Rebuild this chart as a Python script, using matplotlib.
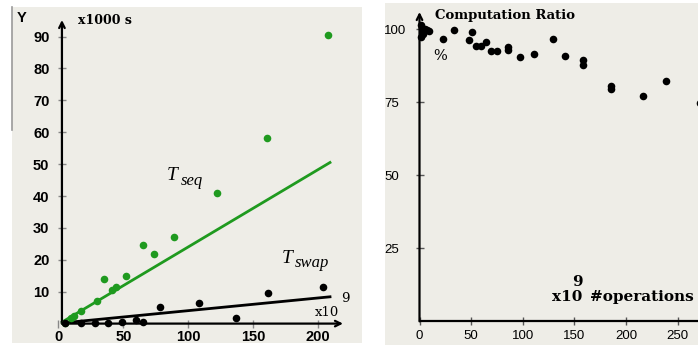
import matplotlib
matplotlib.use("Agg")
import matplotlib.pyplot as plt
from matplotlib.patches import Rectangle
from matplotlib.lines import Line2D

# ---------------- data ----------------
seq_x = [5, 10, 12, 17.4, 29.5, 35, 41.5, 44.4, 51.8, 64.9, 73.8, 89.2, 121.8, 160.3, 207.7]
seq_y = [0.3, 1.9, 2.4, 3.8, 7.2, 13.9, 10.6, 11.6, 14.9, 24.6, 21.8, 27.2, 40.8, 58.1, 90.5]
swap_x = [5, 17.4, 28.2, 38, 48.7, 59.7, 64.9, 78.2, 108.5, 136.7, 161, 203.8]
swap_y = [0.3, 0.3, 0.3, 0.3, 0.5, 1.2, 0.5, 5.1, 6.6, 1.7, 9.7, 11.6]
seq_fit_x = [3, 209]
seq_fit_y = [0.5, 50.5]
swap_fit_x = [3, 209]
swap_fit_y = [0.2, 8.4]
left_xticks = [0, 50, 100, 150, 200]
left_yticks = [10, 20, 30, 40, 50, 60, 70, 80, 90]

ratio_x = [1, 2, 3, 5, 7, 9, 1.5, 3, 22.9, 33.5, 47.7, 50.9, 54.4, 59.3, 64.1, 68.9, 75,
           85.7, 85.7, 97.3, 110.5, 128.9, 140.5, 158.2, 158.2, 185.2, 185.2, 216.2, 238.7, 271.6]
ratio_y = [101.5, 100.5, 99.5, 100, 99.6, 99.3, 97.5, 98.5, 96.6, 99.8, 96.3, 99.1, 94.4, 94.4,
           95.5, 92.4, 92.4, 93.8, 92.9, 90.6, 91.6, 96.6, 91.0, 89.5, 87.7, 80.6, 79.5, 77.3, 82.3, 74.7]
right_xticks = [0, 50, 100, 150, 200, 250]
right_yticks = [25, 50, 75, 100]

# ---------------- figure ----------------
W, H = 698, 345
fig = plt.figure(figsize=(W / 100, H / 100), dpi=100)
fig.patch.set_facecolor("white")

BG = "#eeede7"
GREEN = "#1f9a1f"

def px_rect(x0, y0, x1, y1):
    return (x0 / W, 1 - y1 / H, (x1 - x0) / W, (y1 - y0) / H)

# panel backgrounds
for (x0, y0, x1, y1) in [(12, 7, 362, 343), (385, 3, 698, 345)]:
    l, b, w, h = px_rect(x0, y0, x1, y1)
    fig.patches.append(Rectangle((l, b), w, h, transform=fig.transFigure,
                                 facecolor=BG, edgecolor="none", zorder=-10))
fig.lines.append(Line2D([12 / W, 12 / W], [1 - 7 / H, 1 - 130 / H],
                        transform=fig.transFigure, color="#9a9a9a", lw=1.2, zorder=-5))

serif = "DejaVu Serif"
times = "Liberation Serif"

def ftext(x, y, s, **kw):
    return fig.text(x / W, 1 - y / H, s, **kw)

# ---------------- left panel ----------------
xl0, yl0, pxu_x, pxu_y = 58.3, 323.6, 1.3, 3.19
xlim_l = (0, (343 - xl0) / pxu_x)
ylim_l = (0, (yl0 - 20) / pxu_y)
axL = fig.add_axes([xl0 / W, 1 - yl0 / H,
                    (xlim_l[1] * pxu_x) / W, (ylim_l[1] * pxu_y) / H])
axL.set_zorder(5)
axL.set_xlim(*xlim_l)
axL.set_ylim(*ylim_l)
axL.patch.set_alpha(0)
for s in axL.spines.values():
    s.set_visible(False)
axL.spines["left"].set_position(("data", 2.8))

axL.plot(seq_fit_x, seq_fit_y, color=GREEN, lw=2, zorder=3)
axL.plot(swap_fit_x, swap_fit_y, color="black", lw=2, zorder=3)
axL.scatter(seq_x, seq_y, s=30, color=GREEN, zorder=4, clip_on=False, linewidths=0)
axL.scatter(swap_x, swap_y, s=30, color="black", zorder=4, clip_on=False, linewidths=0)

arrow = dict(arrowstyle="->", lw=1.6, color="black", shrinkA=0, shrinkB=0, mutation_scale=10)
axL.annotate("", xy=(2.8, ylim_l[1]), xytext=(2.8, 0), xycoords="data", arrowprops=arrow)
axL.annotate("", xy=(xlim_l[1], 0), xytext=(2.8, 0), xycoords="data", arrowprops=arrow)

axL.set_xticks(left_xticks)
axL.set_yticks(left_yticks)
axL.set_xticklabels([str(v) for v in left_xticks], fontweight="bold", fontsize=10.5,
                    family="Liberation Sans")
axL.set_yticklabels([str(v) for v in left_yticks], fontweight="bold", fontsize=10.5,
                    family="Liberation Sans")
axL.tick_params(axis="both", direction="inout", length=6, width=1, color="#888888")
axL.xaxis.set_ticks_position("bottom")
axL.yaxis.set_ticks_position("left")
axL.yaxis.set_tick_params(pad=6)
axL.xaxis.set_tick_params(pad=1.5)

ftext(22, 18, "Y", fontsize=10.5, fontweight="bold", family="Liberation Sans",
      ha="center", va="center")
ftext(78, 20, "x1000 s", fontsize=9, fontweight="bold", family=serif, ha="left", va="center")
ftext(167, 180, "T", fontsize=14, style="italic", family=times, ha="left", va="baseline")
ftext(181, 185, "seq", fontsize=12, style="italic", family=times, ha="left", va="baseline")
ftext(282, 263, "T", fontsize=14, style="italic", family=times, ha="left", va="baseline")
ftext(295, 267, "swap", fontsize=12, style="italic", family=times, ha="left", va="baseline")
ftext(315, 313, "x10", fontsize=9.5, family=serif, ha="left", va="center")
ftext(341, 298, "9", fontsize=9.5, family=serif, ha="left", va="center")

# ---------------- right panel ----------------
xr0, yr0, pru_x, pru_y = 419.5, 321.3, 1.033, 2.92
xlim_r = (0, (W - xr0) / pru_x)
ylim_r = (0, (yr0 - 12) / pru_y)
axR = fig.add_axes([xr0 / W, 1 - yr0 / H,
                    (xlim_r[1] * pru_x) / W, (ylim_r[1] * pru_y) / H])
axR.set_zorder(5)
axR.set_xlim(*xlim_r)
axR.set_ylim(*ylim_r)
axR.patch.set_alpha(0)
for s in axR.spines.values():
    s.set_visible(False)
axR.scatter(ratio_x, ratio_y, s=30, color="black", zorder=4, clip_on=False, linewidths=0)
axR.annotate("", xy=(0, ylim_r[1]), xytext=(0, 0), xycoords="data", arrowprops=arrow)
axR.plot([0, xlim_r[1]], [0, 0], color="black", lw=1.6, clip_on=False)
axR.set_xticks(right_xticks)
axR.set_yticks(right_yticks)
axR.set_xticklabels([str(v) for v in right_xticks], fontsize=9.5, family="Liberation Sans")
axR.set_yticklabels([str(v) for v in right_yticks], fontsize=9.5, family="Liberation Sans",
                    ha="left")
axR.tick_params(axis="both", direction="inout", length=6, width=1, color="#555555")
axR.yaxis.set_tick_params(pad=22.5)
axR.xaxis.set_tick_params(pad=3)

ftext(435, 15, "Computation Ratio", fontsize=9.5, fontweight="bold", family=serif,
      ha="left", va="center")
ftext(433, 56, "%", fontsize=10.5, family=serif, ha="left", va="center")
ftext(552, 297, "x10", fontsize=11, fontweight="bold", family=serif, ha="left", va="center")
ftext(572, 282, "9", fontsize=11, fontweight="bold", family=serif, ha="left", va="center")
ftext(590, 297, "#operations", fontsize=11, fontweight="bold", family=serif,
      ha="left", va="center")

fig.savefig("out.png", dpi=100)
